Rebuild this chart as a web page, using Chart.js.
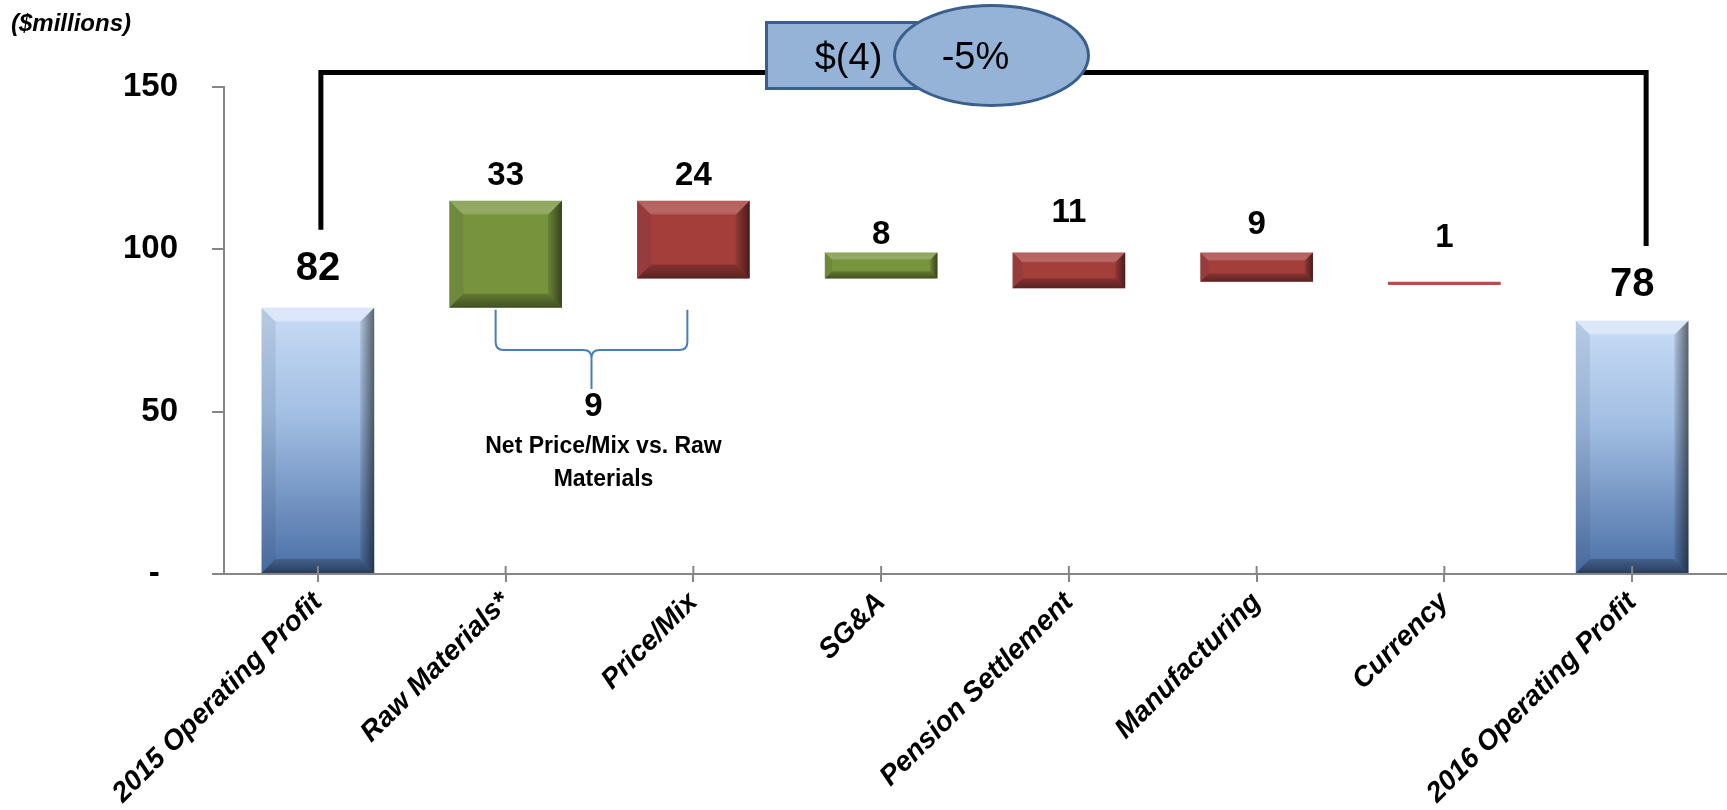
<!DOCTYPE html>
<html>
<head>
<meta charset="utf-8">
<script src="https://cdn.jsdelivr.net/npm/chart.js@4.4.1/dist/chart.umd.min.js"></script>
<style>
  html, body { margin: 0; padding: 0; background: #fff; }
  #wrap { width: 1727px; height: 810px; }
</style>
</head>
<body>
<div id="wrap"><canvas id="bridge" width="1727" height="810"></canvas></div>
<script>
// --- data ---
const categories = ["2015 Operating Profit", "Raw Materials*", "Price/Mix", "SG&A",
                    "Pension Settlement", "Manufacturing", "Currency", "2016 Operating Profit"];
const barLow  = [0, 82, 91, 91, 88, 90, 89, 0];
const barHigh = [82, 115, 115, 99, 99, 99, 90, 78];
const amountLabels = ["82", "33", "24", "8", "11", "9", "1", "78"];
const barKind = ["total", "gain", "loss", "gain", "loss", "loss", "loss", "total"];
const yTicks = [0, 50, 100, 150];
const netPriceMix = "9";
const netPriceMixText = ["Net Price/Mix vs. Raw", "Materials"];
const changeAmount = "$(4)";
const changePct = "-5%";
const unitsNote = "($millions)";

const FONT = '"Liberation Sans", Arial, sans-serif';
const AXIS_GREY = "#868686";

// how far each amount label sits above its bar (px)
const labelLift = [39, 25, 25, 18, 40, 28, 44, 36];

function barFill(context) {
    const i = context.dataIndex;
    const kind = barKind[i];
    if (kind === "gain") return "#77933c";
    if (kind === "loss") return barHigh[i] - barLow[i] < 2 ? "#b84c49" : "#a33e3b";
    const chart = context.chart;
    const ys = chart.scales.y;
    if (!ys || !chart.chartArea) return "#8eaedb";
    const g = chart.ctx.createLinearGradient(0, ys.getPixelForValue(barHigh[i]), 0, ys.getPixelForValue(barLow[i]));
    g.addColorStop(0, "#c8dcf6");
    g.addColorStop(0.4, "#a3bfe3");
    g.addColorStop(1, "#4a6fa6");
    return g;
}

function shade(c, pts, fill) {
    c.beginPath();
    c.moveTo(pts[0][0], pts[0][1]);
    for (let i = 1; i < pts.length; i++) c.lineTo(pts[i][0], pts[i][1]);
    c.closePath();
    c.fillStyle = fill;
    c.fill();
}

// bevelled look of the office chart
const bevelPlugin = {
    id: "bevel",
    afterDatasetsDraw(chart) {
        const c = chart.ctx;
        const meta = chart.getDatasetMeta(0);
        c.save();
        meta.data.forEach((bar, i) => {
            const w = bar.width;
            const l = bar.x - w / 2, r = bar.x + w / 2;
            const t = Math.min(bar.y, bar.base), b = Math.max(bar.y, bar.base);
            const h = b - t;
            if (h < 6) return;
            const e = Math.min(14, h * 0.28, w * 0.13);
            const lift = barKind[i] === "total" ? 0.4 : 0.22;
            let g = c.createLinearGradient(0, t, 0, t + e);
            g.addColorStop(0, "rgba(255,255,255," + (lift * 0.8) + ")");
            g.addColorStop(0.8, "rgba(255,255,255," + lift + ")");
            g.addColorStop(1, "rgba(255,255,255," + (lift * 0.5) + ")");
            shade(c, [[l, t], [r, t], [r - e, t + e], [l + e, t + e]], g);
            shade(c, [[l, t], [l + e, t + e], [l + e, b - e], [l, b]], "rgba(40,50,70,0.10)");
            g = c.createLinearGradient(r - e, 0, r, 0);
            g.addColorStop(0, "rgba(0,0,0,0.10)");
            g.addColorStop(1, "rgba(0,0,0,0.55)");
            shade(c, [[r, t], [r - e, t + e], [r - e, b - e], [r, b]], g);
            g = c.createLinearGradient(0, b - e, 0, b);
            g.addColorStop(0, "rgba(0,0,0,0.18)");
            g.addColorStop(1, "rgba(0,0,0,0.45)");
            shade(c, [[l, b], [r, b], [r - e, b - e], [l + e, b - e]], g);
        });
        c.restore();
    }
};

// amount labels, bracket, brace and the change callout
const notesPlugin = {
    id: "notes",
    afterDraw(chart) {
        const c = chart.ctx;
        const xs = chart.scales.x, ys = chart.scales.y;
        const meta = chart.getDatasetMeta(0);
        c.save();

        // tick marks poke up through the axis too
        c.strokeStyle = AXIS_GREY;
        c.lineWidth = 2;
        const axisY = chart.chartArea.bottom;
        categories.forEach((_, i) => {
            const x = xs.getPixelForValue(i);
            c.beginPath();
            c.moveTo(x, axisY - 8);
            c.lineTo(x, axisY);
            c.stroke();
        });

        // amount labels
        c.fillStyle = "#000";
        c.textAlign = "center";
        c.textBaseline = "middle";
        meta.data.forEach((bar, i) => {
            const size = barKind[i] === "total" ? 40 : 33;
            c.font = "bold " + size + "px " + FONT;
            c.fillText(amountLabels[i], bar.x, Math.min(bar.y, bar.base) - labelLift[i]);
        });

        // units note
        c.font = "italic bold 24px " + FONT;
        c.textAlign = "left";
        c.fillText(unitsNote, 11, 24);

        // bracket from 2015 to 2016
        const x1 = xs.getPixelForValue(0) + 3;
        const x2 = xs.getPixelForValue(categories.length - 1) + 14;
        const yTop = ys.getPixelForValue(154.5);
        c.strokeStyle = "#000";
        c.lineWidth = 5;
        c.lineJoin = "miter";
        c.beginPath();
        c.moveTo(x1, ys.getPixelForValue(106));
        c.lineTo(x1, yTop);
        c.lineTo(x2, yTop);
        c.lineTo(x2, ys.getPixelForValue(101));
        c.stroke();

        // change callout
        const midX = (x1 + x2) / 2;
        const cy = yTop - 17;
        c.fillStyle = "#95b3d7";
        c.strokeStyle = "#3a5f8d";
        c.lineWidth = 3;
        c.beginPath();
        c.rect(midX - 217, cy - 33, 180, 66);
        c.fill();
        c.stroke();
        c.beginPath();
        c.ellipse(midX + 8, cy, 97, 50, 0, 0, Math.PI * 2);
        c.fill();
        c.stroke();
        c.fillStyle = "#000";
        c.font = "38px " + FONT;
        c.textAlign = "center";
        c.fillText(changeAmount, midX - 135, cy + 4);
        c.fillText(changePct, midX - 8, cy + 3);

        // brace under raw materials / price-mix
        const L = xs.getPixelForValue(1) - 10;
        const R = xs.getPixelForValue(2) - 6;
        const C = (L + R) / 2;
        const top = ys.getPixelForValue(barLow[1]) + 2;
        const mid = ys.getPixelForValue(69);
        const tip = ys.getPixelForValue(57);
        const rr = 8;
        c.strokeStyle = "#4a7ebb";
        c.lineWidth = 2;
        c.beginPath();
        c.moveTo(L, top);
        c.lineTo(L, mid - rr);
        c.quadraticCurveTo(L, mid, L + rr, mid);
        c.lineTo(C - rr, mid);
        c.quadraticCurveTo(C, mid, C, mid + rr);
        c.lineTo(C, tip);
        c.moveTo(R, top);
        c.lineTo(R, mid - rr);
        c.quadraticCurveTo(R, mid, R - rr, mid);
        c.lineTo(C + rr, mid);
        c.quadraticCurveTo(C, mid, C, mid + rr);
        c.stroke();

        const ny = ys.getPixelForValue(51.5);
        c.fillStyle = "#000";
        c.font = "bold 33px " + FONT;
        c.fillText(netPriceMix, C + 2, ny);
        c.font = "bold 23px " + FONT;
        c.fillText(netPriceMixText[0], C + 12, ny + 40);
        c.fillText(netPriceMixText[1], C + 12, ny + 73);

        c.restore();
    }
};

new Chart(document.getElementById("bridge"), {
    type: "bar",
    data: {
        labels: categories,
        datasets: [{
            data: barLow.map((lo, i) => [lo, barHigh[i]]),
            backgroundColor: barFill,
            borderWidth: 0,
            barPercentage: 0.6,
            categoryPercentage: 1
        }]
    },
    options: {
        responsive: false,
        animation: false,
        layout: { padding: { top: 87, right: 1, left: 0, bottom: 0 } },
        plugins: { legend: { display: false }, tooltip: { enabled: false } },
        scales: {
            x: {
                grid: { offset: false, drawOnChartArea: false, tickLength: 8, color: AXIS_GREY, lineWidth: 2 },
                border: { color: AXIS_GREY, width: 2 },
                ticks: {
                    autoSkip: false,
                    maxRotation: 45,
                    minRotation: 45,
                    padding: 4,
                    color: "#000",
                    font: { family: FONT, size: 28, weight: "bold", style: "italic" }
                },
                afterFit: (s) => { s.height = 236; }
            },
            y: {
                min: 0,
                max: 150,
                afterBuildTicks: (s) => { s.ticks = yTicks.map((v) => ({ value: v })); },
                grid: { drawOnChartArea: false, tickLength: 12, color: AXIS_GREY, lineWidth: 2 },
                border: { color: AXIS_GREY, width: 2 },
                ticks: {
                    padding: 34,
                    color: "#000",
                    font: { family: FONT, size: 33, weight: "bold" },
                    callback: (v) => (v === 0 ? "-  " : v)
                },
                afterFit: (s) => { s.width = 224; }
            }
        }
    },
    plugins: [bevelPlugin, notesPlugin]
});
</script>
</body>
</html>
